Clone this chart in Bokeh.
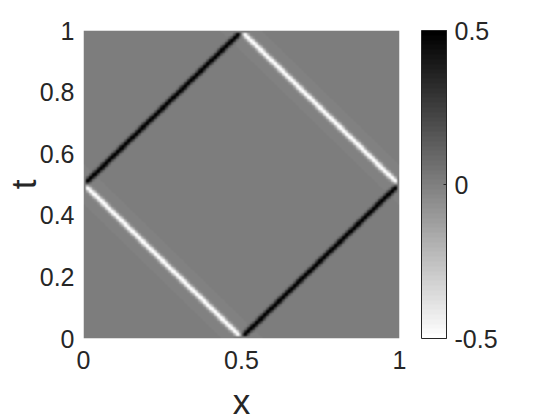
import numpy as np
from bokeh.plotting import figure
from bokeh.models import LinearColorMapper, ColorBar, FixedTicker
from bokeh.embed import file_html
from bokeh.resources import INLINE

# ---- data: travelling pulses (d'Alembert with reflections) ----
pulse_origin = [0.5, 0.5, -0.5, 1.5]      # x at t=0
pulse_speed = [1.0, -1.0, 1.0, -1.0]      # dx/dt
pulse_amp = [0.5, -0.5, 0.5, -0.5]        # amplitude
pulse_width = 0.009                       # gaussian sigma
# faint numerical ghost bands beside the negative pulses
ghost_offset = [-0.045, 0.045]
ghost_amp = [-0.01, -0.01]
ghost_width = 0.012
x_ticks = [0, 0.5, 1]
t_ticks = [0, 0.2, 0.4, 0.6, 0.8, 1]
cbar_ticks = [-0.5, 0, 0.5]

n = 200
xs = np.linspace(0, 1, n)
ts = np.linspace(0, 1, n)
X, T = np.meshgrid(xs, ts)
U = np.zeros_like(X)
for x0, c, a in zip(pulse_origin, pulse_speed, pulse_amp):
    U += a * np.exp(-((X - (x0 + c * T)) ** 2) / (2 * pulse_width ** 2))
U[np.abs(U) < 1e-3] = 0.0
for x0, c, a in zip(pulse_origin, pulse_speed, pulse_amp):
    if a < 0:
        for off, ga in zip(ghost_offset, ghost_amp):
            g = ga * np.exp(-((X - (x0 + c * T) - off) ** 2) / (2 * ghost_width ** 2))
            g[np.abs(g) < 2e-3] = 0.0
            U += g

palette = ["#%02x%02x%02x" % (v, v, v) for v in np.linspace(255, 0, 64).astype(int)]
mapper = LinearColorMapper(palette=palette, low=-0.5, high=0.5)

txt = "#262626"
p = figure(frame_width=316, frame_height=308, x_range=(0, 1), y_range=(0, 1),
           output_backend="svg", toolbar_location=None,
           min_border_left=76, min_border_top=30, min_border_right=10, min_border_bottom=10)
p.image(image=[U], x=0, y=0, dw=1, dh=1, color_mapper=mapper)

for ax in (p.xaxis, p.yaxis):
    ax.axis_line_color = None
    ax.major_tick_line_color = None
    ax.minor_tick_line_color = None
    ax.major_tick_out = 0
    ax.major_tick_in = 0
    ax.major_label_text_font = "Liberation Sans"
    ax.major_label_text_font_size = "25px"
    ax.major_label_text_color = txt
    ax.axis_label_text_font = "Liberation Sans"
    ax.axis_label_text_font_size = "35px"
    ax.axis_label_text_font_style = "normal"
    ax.axis_label_text_color = txt
p.xaxis.ticker = FixedTicker(ticks=x_ticks)
p.yaxis.ticker = FixedTicker(ticks=t_ticks)
p.xaxis.major_label_overrides = {0: "0", 0.5: "0.5", 1: "1"}
p.yaxis.major_label_overrides = {0: "0", 1: "1"}
p.xaxis.axis_label = "x"
p.yaxis.axis_label = "t"
p.xaxis.major_label_standoff = 12
p.yaxis.major_label_standoff = 9
p.xaxis.axis_label_standoff = 10
p.yaxis.axis_label_standoff = -6
p.grid.visible = False
p.outline_line_color = None

cb = ColorBar(color_mapper=mapper, ticker=FixedTicker(ticks=cbar_ticks),
              major_label_overrides={-0.5: "-0.5", 0: "0", 0.5: "0.5"},
              major_label_text_font="Liberation Sans", major_label_text_font_size="25px",
              major_label_text_color=txt, width=25, height=308, padding=0, margin=0,
              bar_line_color=txt, major_tick_line_color=txt, major_tick_in=3, major_tick_out=0,
              label_standoff=8, background_fill_alpha=0, border_line_color=None,
              location=(22, 0))
p.add_layout(cb, "right")

open("out.html", "w").write(file_html(p, INLINE))
